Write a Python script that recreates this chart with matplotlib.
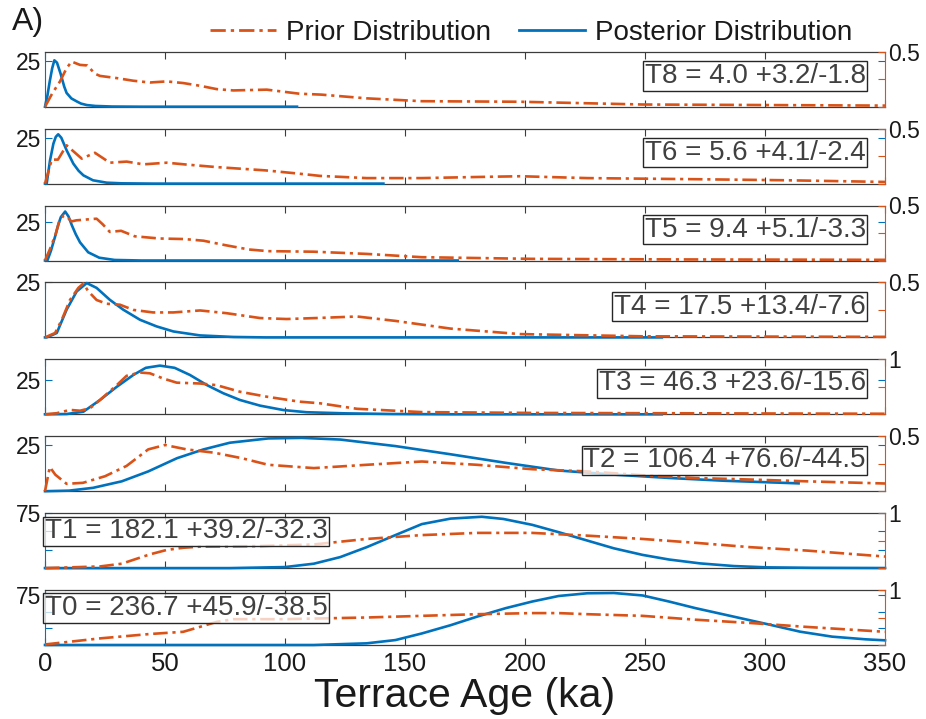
import numpy as np
import matplotlib
matplotlib.use("Agg")
import matplotlib.pyplot as plt
from matplotlib.lines import Line2D

plt.rcParams['font.family'] = ['Liberation Sans', 'DejaVu Sans']

BLUE = '#0072BD'
ORANGE = '#D95319'
GREY = '#3c3c3c'
TXT = '#1a1a1a'
DASHDOT = (0, (5.5, 1.8, 1.2, 1.8))

# ---------------------------------------------------------------------------
# values: x in ka, posterior on left axis, prior on right
# ---------------------------------------------------------------------------
t8_post_x = [0, 1, 2, 3, 3.9, 5, 6.5, 8, 9, 11, 13.2, 15, 17.4, 21, 28, 40, 105]
t8_post_y = [0, 6, 14, 21, 25.3, 24, 18, 11, 7.5, 4.5, 2.9, 1.7, 0.9, 0.4, 0.1, 0, 0]
t8_prior_x = [0, 3, 6.25, 9, 11.1, 14.6, 17.6, 20.8, 22.9, 29.9, 36.8, 43.75, 50.7,
              57.6, 64.6, 71.5, 78.5, 92.4, 106, 115, 134, 157, 198, 249, 300, 350]
t8_prior_y = [0, 0.12, 0.23, 0.35, 0.41, 0.38, 0.375, 0.3, 0.28, 0.26, 0.236, 0.22, 0.23,
              0.215, 0.19, 0.16, 0.148, 0.155, 0.118, 0.11, 0.076, 0.05, 0.045, 0.02, 0.015, 0.01]

t6_post_x = [0, 0.7, 2.1, 3.5, 4.5, 5.5, 6.8, 9, 11.8, 14, 16, 20, 25.7, 32, 45, 141]
t6_post_y = [0, 0, 12.7, 21.8, 25.5, 26.9, 25, 18.2, 10.9, 7, 4.5, 1.8, 0.5, 0.15, 0, 0]
t6_prior_x = [0, 2.8, 5.4, 9, 15.3, 20.8, 27, 34, 41, 50.7, 59, 71.5, 92, 106, 114.6,
              134, 157, 180, 198, 226, 271, 310, 350]
t6_prior_y = [0, 0.218, 0.218, 0.348, 0.227, 0.28, 0.19, 0.2, 0.175, 0.19, 0.173, 0.15,
              0.12, 0.09, 0.07, 0.05, 0.05, 0.06, 0.067, 0.05, 0.04, 0.03, 0.015]

t5_post_x = [0, 1, 2.5, 4.3, 5.5, 6.6, 8.4, 9.8, 11.2, 12.8, 14.6, 18, 22.6, 29, 40, 172]
t5_post_y = [0, 0, 6.4, 16, 23, 28, 31.6, 28.4, 22.7, 17, 11.7, 5.3, 1.8, 0.35, 0, 0]
t5_prior_x = [0, 2, 4.3, 6, 7.8, 9.5, 11, 13, 15.8, 18.5, 21.5, 24, 27, 31.7, 37.4, 47.7,
              58, 66, 75, 85, 93, 112, 134, 157, 203, 260, 350]
t5_prior_y = [0, 0.1, 0.23, 0.36, 0.41, 0.39, 0.355, 0.365, 0.37, 0.375, 0.38, 0.33, 0.26,
              0.27, 0.22, 0.2, 0.195, 0.18, 0.14, 0.1, 0.085, 0.08, 0.06, 0.03, 0.015, 0.01, 0.006]

t4_post_x = [0, 0.7, 4.9, 9, 13.2, 17.4, 21.5, 27, 32.6, 39.6, 46.5, 53.5, 64.6, 78.5, 92, 257]
t4_post_y = [0, 0, 2, 12.6, 20.9, 24.7, 22.5, 17.1, 12.6, 8, 5, 2.7, 0.9, 0.2, 0, 0]
t4_prior_x = [0, 4.2, 7, 10.4, 13.9, 16, 18, 21.5, 25.7, 31.25, 36.8, 45, 53.5, 64.6, 75.7,
              89.6, 100.7, 113, 130, 146, 169, 198, 249, 350]
t4_prior_y = [0, 0.04, 0.16, 0.34, 0.45, 0.49, 0.42, 0.34, 0.306, 0.297, 0.25, 0.227, 0.227,
              0.245, 0.22, 0.176, 0.167, 0.176, 0.19, 0.15, 0.08, 0.03, 0.01, 0.005]

t3_post_x = [0, 9, 16, 22.9, 29.9, 36.8, 42, 47.9, 54, 60.4, 67.4, 74.3, 81.25, 89.6,
             99.3, 109, 125, 145, 170, 257]
t3_post_y = [0, 0.2, 1.9, 10.4, 20, 28.6, 33.8, 35.4, 33.8, 28.6, 21.3, 15.3, 10.4, 6.3,
             3.1, 1.5, 0.7, 0.2, 0, 0]
t3_prior_x = [0, 4.9, 10.4, 14.6, 18.75, 22.9, 29.9, 34, 39.6, 43.75, 49.3, 54.9, 64.6,
              71.5, 81.25, 92.4, 106, 114.6, 130, 157, 203, 350]
t3_prior_y = [0, 0.02, 0.08, 0.065, 0.11, 0.26, 0.53, 0.7, 0.76, 0.745, 0.65, 0.575, 0.56,
              0.53, 0.41, 0.32, 0.23, 0.2, 0.1, 0.04, 0.025, 0.01]

t2_post_x = [0, 10, 20, 32, 43, 55, 66, 77, 93, 107, 123, 146, 169, 192, 214, 237, 260, 283, 314]
t2_post_y = [0, 0.3, 1.8, 5.3, 10.6, 17.7, 22.4, 26, 28.3, 28.6, 27.7, 24.2, 19.8, 15.2,
             11.1, 8.9, 7.1, 5.6, 4.2]
t2_prior_x = [0, 2, 4.3, 9, 15.8, 25, 34, 43, 50, 59, 70.5, 82, 93, 112, 134, 157, 180,
              203, 226, 249, 271, 294, 317, 350]
t2_prior_y = [0, 0.22, 0.15, 0.067, 0.076, 0.136, 0.23, 0.38, 0.42, 0.38, 0.35, 0.3, 0.24,
              0.21, 0.24, 0.27, 0.24, 0.2, 0.18, 0.145, 0.12, 0.106, 0.09, 0.07]

t1_post_x = [0, 77, 100, 112, 123, 134, 146, 157, 169, 182, 191, 203, 214, 226, 237, 249,
             260, 273, 287, 301, 320, 350]
t1_post_y = [0, 0, 1.4, 6, 15, 28.5, 45, 60, 67.5, 70, 67, 59, 49, 37.5, 27, 18, 11.7,
             6.4, 2.8, 1.0, 0.4, 0.1]
t1_prior_x = [0, 22.9, 32, 36.8, 43.75, 50.7, 57.6, 64.6, 89, 112, 134, 157, 180, 203,
              226, 249, 271, 294, 317, 350]
t1_prior_y = [0, 0.03, 0.08, 0.15, 0.25, 0.33, 0.37, 0.39, 0.4, 0.43, 0.53, 0.6, 0.64,
              0.64, 0.59, 0.53, 0.46, 0.38, 0.32, 0.21]

t0_post_x = [0, 112, 134, 146, 157, 169, 180, 192, 203, 214, 226, 237, 249, 260, 271,
             287, 300.7, 314.6, 328, 342, 350]
t0_post_y = [0, 0, 2.5, 7.4, 17.3, 29.7, 42.5, 55.3, 65.2, 73.5, 77.6, 78, 74.3, 65.2,
             55.3, 42.5, 31.5, 20, 12.5, 8.5, 7]
t0_prior_x = [0, 22.9, 43.75, 57.6, 64.6, 71.5, 78.5, 100, 134, 157, 180, 203, 214, 226,
              249, 271, 294, 317, 350]
t0_prior_y = [0.01, 0.12, 0.2, 0.24, 0.33, 0.42, 0.47, 0.47, 0.5, 0.53, 0.56, 0.58, 0.58,
              0.56, 0.53, 0.46, 0.4, 0.33, 0.24]

labels = ['T8 = 4.0 +3.2/-1.8', 'T6 = 5.6 +4.1/-2.4', 'T5 = 9.4 +5.1/-3.3',
          'T4 = 17.5 +13.4/-7.6', 'T3 = 46.3 +23.6/-15.6', 'T2 = 106.4 +76.6/-44.5',
          'T1 = 182.1 +39.2/-32.3', 'T0 = 236.7 +45.9/-38.5']
posts = [(t8_post_x, t8_post_y), (t6_post_x, t6_post_y), (t5_post_x, t5_post_y),
         (t4_post_x, t4_post_y), (t3_post_x, t3_post_y), (t2_post_x, t2_post_y),
         (t1_post_x, t1_post_y), (t0_post_x, t0_post_y)]
priors = [(t8_prior_x, t8_prior_y), (t6_prior_x, t6_prior_y), (t5_prior_x, t5_prior_y),
          (t4_prior_x, t4_prior_y), (t3_prior_x, t3_prior_y), (t2_prior_x, t2_prior_y),
          (t1_prior_x, t1_prior_y), (t0_prior_x, t0_prior_y)]
left_max = [30, 30, 35.5, 25, 40, 29.5, 75, 82.5]
right_max = [0.5, 0.5, 0.5, 0.5, 1, 0.5, 1, 1]

# ---------------------------------------------------------------------------
W, H = 926, 719
AX_L, AX_R = 45, 885
AX_H = 55

fig = plt.figure(figsize=(W / 100, H / 100), dpi=100)
fig.patch.set_facecolor('white')

for i in range(8):
    top = 51.7 + 76.9 * i
    ax = fig.add_axes([AX_L / W, 1 - (top + AX_H) / H, (AX_R - AX_L) / W, AX_H / H])
    ax2 = ax.twinx()

    px, py = posts[i]
    qx, qy = priors[i]
    ax.plot(px, py, color=BLUE, lw=1.9, clip_on=False, zorder=3)
    ax2.plot(qx, qy, color=ORANGE, lw=1.9, ls=DASHDOT, clip_on=False, zorder=3)

    ax.set_xlim(0, 350)
    ax.set_ylim(0, left_max[i])
    ax2.set_ylim(0, right_max[i])

    ax.set_xticks(np.arange(0, 351, 50))
    ax.tick_params(axis='x', direction='in', top=True, bottom=True, length=5,
                   width=0.8, color=GREY, labelsize=18.5, labelcolor=TXT, pad=5)
    if i < 7:
        ax.set_xticklabels([])

    if left_max[i] > 60:
        ax.set_yticks([0, 25, 50, 75])
        ax.set_yticklabels(['', '', '', '75'])
    else:
        ax.set_yticks([25])
        ax.set_yticklabels(['25'])
    ax.tick_params(axis='y', direction='in', left=True, right=True, length=5, width=0.8,
                   color=BLUE, labelsize=16.5, labelcolor=TXT, pad=3)

    rm = right_max[i]
    ax2.set_yticks([0, rm / 2, rm])
    ax2.set_yticklabels(['', '', '1' if rm == 1 else '0.5'])
    ax2.tick_params(axis='y', direction='in', length=5, width=0.8, color=ORANGE,
                    labelsize=16.5, labelcolor=TXT, pad=2)

    for s in ('top', 'bottom'):
        ax.spines[s].set_color(GREY)
        ax.spines[s].set_linewidth(0.9)
        ax2.spines[s].set_visible(False)
    ax.spines['left'].set_color(BLUE)
    ax.spines['right'].set_visible(False)
    ax2.spines['left'].set_visible(False)
    ax2.spines['right'].set_color(ORANGE)

    box = dict(boxstyle='square,pad=0.06', fc=(1, 1, 1, 0.75), ec='#262626', lw=1.0)
    if i < 6:
        ax2.text(0.977, 0.56, labels[i], transform=ax2.transAxes, ha='right', va='center',
                 fontsize=20, color='#404040', bbox=box, zorder=10)
    else:
        ax2.text(0.0, 0.67, labels[i], transform=ax2.transAxes, ha='left', va='center',
                 fontsize=20, color='#404040', bbox=box, zorder=10)

    if i == 7:
        ax.set_xlabel('Terrace Age (ka)', fontsize=29.5, color=TXT, labelpad=1)

fig.text(12 / W, 1 - 22 / H, 'A)', fontsize=23, color=TXT, ha='left', va='center')

handles = [Line2D([], [], color=ORANGE, lw=2, ls=DASHDOT),
           Line2D([], [], color=BLUE, lw=2)]
fig.legend(handles, ['Prior Distribution', 'Posterior Distribution'], loc='center',
           bbox_to_anchor=(531 / W, 1 - 33 / H), ncol=2, frameon=False, fontsize=20,
           handlelength=2.4, handletextpad=0.35, columnspacing=1.0, labelcolor=TXT)

fig.savefig('out.png', dpi=100, facecolor='white')
